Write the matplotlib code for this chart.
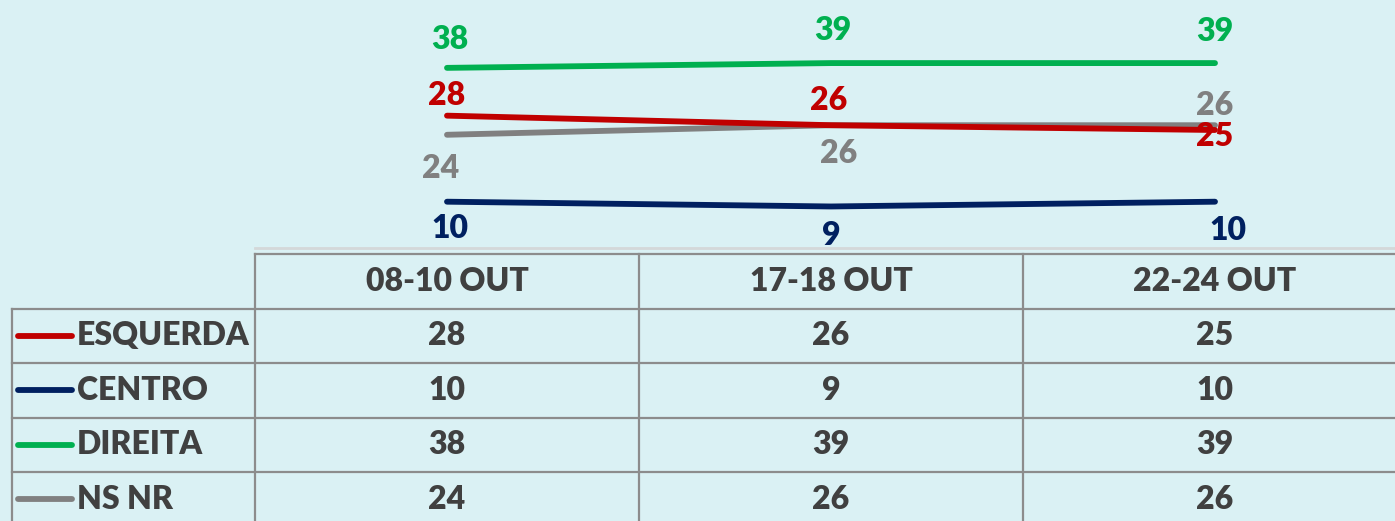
import matplotlib
matplotlib.use('Agg')
import matplotlib.pyplot as plt
from matplotlib.lines import Line2D

# dados da sondagem
periodos = ["08-10 OUT", "17-18 OUT", "22-24 OUT"]
series = ["ESQUERDA", "CENTRO", "DIREITA", "NS NR"]
esquerda = [28, 26, 25]
centro = [10, 9, 10]
direita = [38, 39, 39]
ns_nr = [24, 26, 26]

cores = {"ESQUERDA": "#C00000", "CENTRO": "#002060",
         "DIREITA": "#00B050", "NS NR": "#808080"}
valores = {"ESQUERDA": esquerda, "CENTRO": centro,
           "DIREITA": direita, "NS NR": ns_nr}
# deslocamento dos rótulos (pixels)
offsets = {"ESQUERDA": [(0, 20), (-2, 25), (0, -7)],
           "CENTRO": [(3, -27), (0, -29), (13, -29)],
           "DIREITA": [(3, 28), (2, 33), (0, 32)],
           "NS NR": [(-6, -34), (8, -28), (0, 20)]}

FUNDO = "#DAF1F4"
W, H = 1395, 521
PESO = 'heavy'
plt.rcParams['font.family'] = ['Lato', 'DejaVu Sans']

fig = plt.figure(figsize=(W / 100, H / 100), dpi=100, facecolor=FUNDO)

# camada em pixels para a tabela
tab = fig.add_axes([0, 0, 1, 1])
tab.set_xlim(0, W)
tab.set_ylim(H, 0)
tab.axis('off')

col_w = 384
x0 = 255
row_h = 54.5
y_head = 254

# gráfico de linhas
ax = fig.add_axes([x0 / W, (H - 249.5) / H, 3 * col_w / W, 239 / H])
ax.set_facecolor('none')
ax.set_xlim(-0.5, 2.5)
ax.set_ylim(0, 50)
ax.axis('off')
xs = range(len(periodos))
for s in ["NS NR", "ESQUERDA", "CENTRO", "DIREITA"]:
    ax.plot(xs, valores[s], color=cores[s], lw=4.2, solid_capstyle='round')
for s in series:
    for i, v in enumerate(valores[s]):
        dx, dy = offsets[s][i]
        ax.annotate(str(v), (i, v), xytext=(dx, dy), textcoords='offset pixels',
                    ha='center', va='center', color=cores[s], fontsize=23,
                    fontweight=PESO)

# tabela
grid = dict(color="#8C8C8C", lw=1.6)
right = x0 + 3 * col_w
tab.plot([x0, right], [248, 248], color="#D4D8D9", lw=2)
tab.plot([x0, right], [y_head, y_head], **grid)
for r in range(len(series)):
    y = y_head + row_h * (r + 1)
    tab.plot([12, right], [y, y], **grid)
tab.plot([12, 12], [y_head + row_h, H + 5], **grid)
for c in range(4):
    tab.plot([x0 + c * col_w] * 2, [y_head, H + 5], **grid)

txt = "#404040"
for c, p in enumerate(periodos):
    tab.text(x0 + (c + 0.5) * col_w, y_head + row_h / 2, p, ha='center',
             va='center', fontsize=23, color=txt, fontweight=PESO)
for r, s in enumerate(series):
    yc = y_head + row_h * (r + 1.5)
    tab.add_line(Line2D([18, 72], [yc, yc], color=cores[s], lw=4.2,
                        solid_capstyle='round'))
    tab.text(77, yc, s, ha='left', va='center', fontsize=23, color=txt,
             fontweight=PESO)
    for c, v in enumerate(valores[s]):
        tab.text(x0 + (c + 0.5) * col_w, yc, str(v), ha='center', va='center',
                 fontsize=23, color=txt, fontweight=PESO)

fig.savefig("out.png", dpi=100, facecolor=FUNDO)
